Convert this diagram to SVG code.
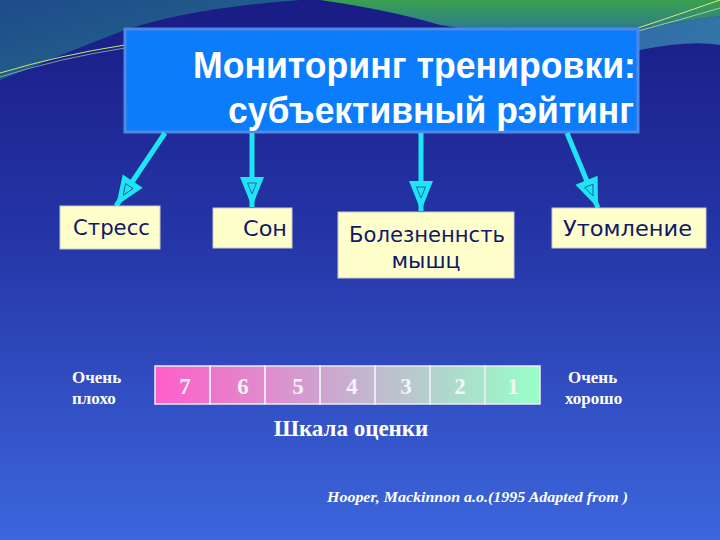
<svg xmlns="http://www.w3.org/2000/svg" width="720" height="540" viewBox="0 0 720 540">
<defs>
<linearGradient id="bg" x1="0" y1="0" x2="0" y2="1">
<stop offset="0" stop-color="#191c84"/>
<stop offset="0.45" stop-color="#2536a8"/>
<stop offset="1" stop-color="#3d66dc"/>
</linearGradient>
<linearGradient id="tl" x1="0" y1="0" x2="1" y2="1">
<stop offset="0" stop-color="#1f4a8a"/>
<stop offset="0.6" stop-color="#21608a"/>
<stop offset="1" stop-color="#2a8a70"/>
</linearGradient>
<linearGradient id="tr" x1="0" y1="0" x2="0" y2="1">
<stop offset="0" stop-color="#3aa050"/>
<stop offset="1" stop-color="#2c7a90"/>
</linearGradient>
<linearGradient id="band" x1="0" y1="0" x2="1" y2="0">
<stop offset="0" stop-color="#2e6aa8"/>
<stop offset="1" stop-color="#3a8ab0"/>
</linearGradient>
<linearGradient id="scale" x1="0" y1="0" x2="1" y2="0">
<stop offset="0" stop-color="#ff5ec8"/>
<stop offset="0.5" stop-color="#c8aed0"/>
<stop offset="1" stop-color="#98ffc8"/>
</linearGradient>
<marker id="ah" markerUnits="userSpaceOnUse" markerWidth="34" markerHeight="30" viewBox="-2 -15 34 30" refX="30" refY="0" orient="auto">
<path d="M0,-12 L30,0 L0,12 Z" fill="#1ee4f4"/>
<path d="M6,-4.5 L17,0 L6,4.5 Z" fill="none" stroke="#1a4a9a" stroke-width="0.8"/>
</marker>
<style>
.conn{stroke:#1ee4f4;stroke-width:5;fill:none;marker-end:url(#ah)}
.box{fill:#ffffcc;stroke:#c8c8c8;stroke-width:1}
.lbl{font-family:"DejaVu Sans","Noto Sans",sans-serif;font-size:22px;fill:#10186a}
.ttl{font-family:"Liberation Sans","Noto Sans",sans-serif;font-weight:bold;font-size:36px;fill:#ffffff}
.ser{font-family:"Liberation Serif","DejaVu Serif",serif;font-weight:bold;fill:#ffffff}
.num{font-family:"Liberation Serif","DejaVu Serif",serif;font-weight:bold;font-size:23px;fill:#f4f4f8;text-anchor:middle}
.cell{fill:none;stroke:#ececf4;stroke-width:1.5}
</style>
</defs>
<rect width="720" height="540" fill="url(#bg)"/>
<g id="background-decor">
<path d="M0,0 L300,0 Q190,8 125,30 Q60,55 0,80 Z" fill="url(#tl)"/>
<path d="M0,73 Q60,55 125,45" fill="none" stroke="#c8e870" stroke-width="1"/>
<path d="M0,77 Q60,58 125,48" fill="none" stroke="#a0d0a0" stroke-width="0.7"/>
<path d="M320,0 L720,0 L720,16 Q680,22 640,28 Q560,32 520,30 Q470,30 440,25 Q390,10 320,0 Z" fill="url(#tr)"/>
<path d="M440,25 Q520,32 640,28 L720,16 L720,45 Q690,40 640,50 Q540,42 440,25 Z" fill="url(#band)" opacity="0.8"/>
<path d="M638,28 Q680,14 720,0" fill="none" stroke="#d8f070" stroke-width="1"/>
<path d="M638,31 Q680,20 720,8" fill="none" stroke="#c0e890" stroke-width="0.8"/>
</g>
<g id="title">
<rect x="125" y="29" width="513" height="103" fill="#0b7cfc" stroke="#4b8ae6" stroke-width="3"/>
<text class="ttl" x="636" y="78" text-anchor="end" textLength="443" lengthAdjust="spacingAndGlyphs">Мониторинг тренировки:</text>
<text class="ttl" x="634" y="123" text-anchor="end" textLength="406" lengthAdjust="spacingAndGlyphs">субъективный рэйтинг</text>
</g>
<g id="connectors">
<line class="conn" x1="165" y1="133" x2="116" y2="206"/>
<line class="conn" x1="252" y1="133" x2="252" y2="207"/>
<line class="conn" x1="421" y1="133" x2="421" y2="211"/>
<line class="conn" x1="567" y1="133" x2="598" y2="208"/>
</g>
<g id="node-stress">
<rect class="box" x="60" y="206" width="100" height="43"/>
<text class="lbl" x="73" y="235" textLength="77" lengthAdjust="spacingAndGlyphs">Стресс</text>
</g>
<g id="node-son">
<rect class="box" x="213" y="208" width="79" height="40"/>
<text class="lbl" x="243" y="236" textLength="44" lengthAdjust="spacingAndGlyphs">Сон</text>
</g>
<g id="node-bolezn">
<rect class="box" x="338" y="212" width="176" height="66"/>
<text class="lbl" x="349" y="242" textLength="156" lengthAdjust="spacingAndGlyphs">Болезненнсть</text>
<text class="lbl" x="426" y="268" text-anchor="middle">мышц</text>
</g>
<g id="node-utomlenie">
<rect class="box" x="552" y="208" width="154" height="40"/>
<text class="lbl" x="563" y="236" textLength="129" lengthAdjust="spacingAndGlyphs">Утомление</text>
</g>
<g id="scale-bar">
<rect x="155" y="366" width="385" height="38" fill="url(#scale)"/>
<rect class="cell" x="155" y="366" width="55" height="38"/>
<rect class="cell" x="210" y="366" width="55" height="38"/>
<rect class="cell" x="265" y="366" width="55" height="38"/>
<rect class="cell" x="320" y="366" width="55" height="38"/>
<rect class="cell" x="375" y="366" width="55" height="38"/>
<rect class="cell" x="430" y="366" width="55" height="38"/>
<rect class="cell" x="485" y="366" width="55" height="38"/>
<text class="num" x="185" y="394">7</text>
<text class="num" x="243" y="394">6</text>
<text class="num" x="298" y="394">5</text>
<text class="num" x="352" y="394">4</text>
<text class="num" x="406" y="394">3</text>
<text class="num" x="460" y="394">2</text>
<text class="num" x="513" y="394">1</text>
</g>
<g id="labels">
<text class="ser" x="72" y="383" font-size="17">Очень</text>
<text class="ser" x="72" y="404" font-size="17">плохо</text>
<text class="ser" x="568" y="383" font-size="17">Очень</text>
<text class="ser" x="565" y="404" font-size="17">хорошо</text>
<text class="ser" x="351" y="436" font-size="23" text-anchor="middle">Шкала оценки</text>
<text class="ser" x="327" y="502" font-size="15" font-style="italic" textLength="301" lengthAdjust="spacingAndGlyphs">Hooper, Mackinnon a.o.(1995 Adapted from )</text>
</g>
</svg>
